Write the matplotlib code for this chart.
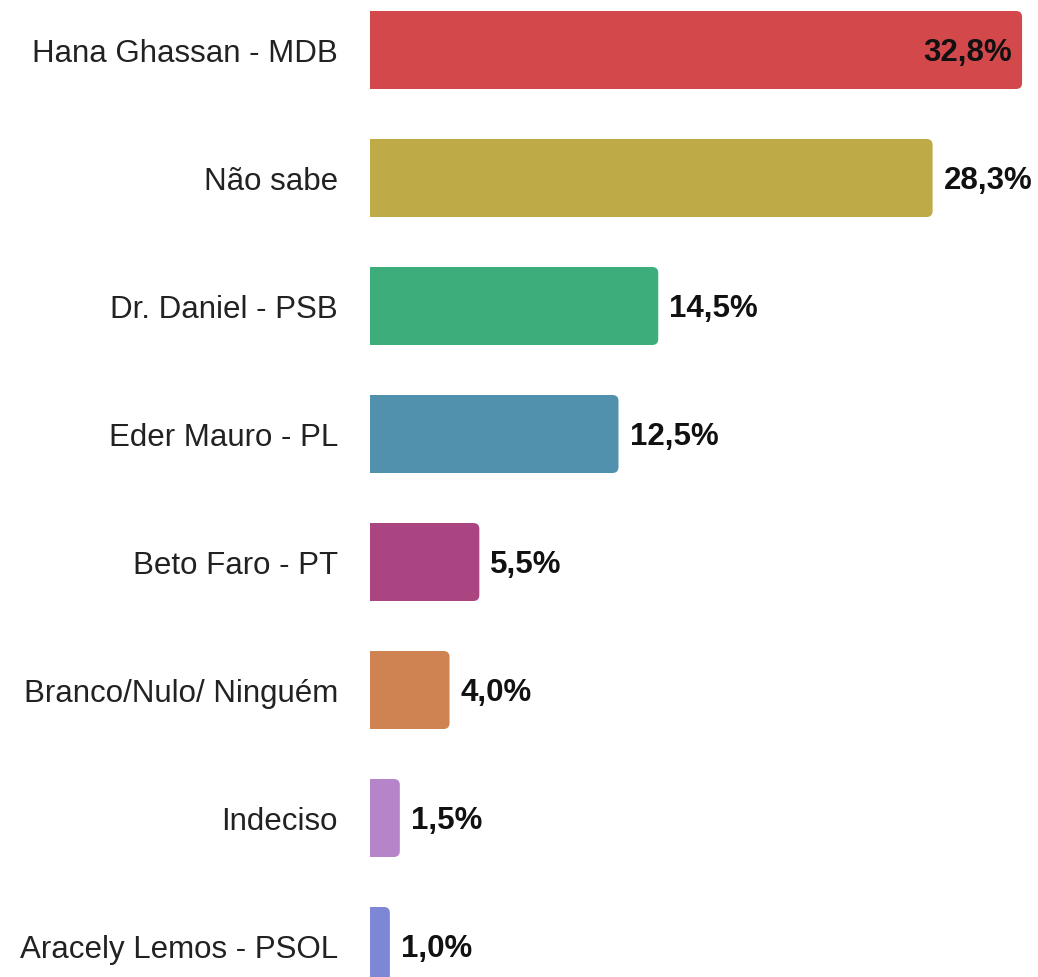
import matplotlib
matplotlib.use("Agg")
import matplotlib.pyplot as plt
from matplotlib.patches import FancyBboxPatch

plt.rcParams['font.family'] = ['Liberation Sans', 'DejaVu Sans']

candidatos = ['Hana Ghassan - MDB', 'Não sabe', 'Dr. Daniel - PSB', 'Eder Mauro - PL',
              'Beto Faro - PT', 'Branco/Nulo/ Ninguém', 'Indeciso', 'Aracely Lemos - PSOL']
valores = [32.8, 28.3, 14.5, 12.5, 5.5, 4.0, 1.5, 1.0]
rotulos = ['32,8%', '28,3%', '14,5%', '12,5%', '5,5%', '4,0%', '1,5%', '1,0%']
cores = ['#D2484B', '#BEAA47', '#3DAD7B', '#5291AD', '#AA4581', '#CF8352', '#B584C9', '#7E86D6']

fig = plt.figure(figsize=(10.38, 9.78), dpi=100)
ax = fig.add_axes([370 / 1038, 0, 668 / 1038, 1])

px_x = 19.88   # pixels per percent
px_y = 128.0   # pixels per category
ax.set_xlim(0, 668 / px_x)
ax.set_ylim((978 - 51) / px_y, -51 / px_y)

altura = 78 / px_y
raio = 6 / px_x
for i, (v, c) in enumerate(zip(valores, cores)):
    p = FancyBboxPatch((-1, i - altura / 2), v + 1, altura,
                       boxstyle=f"round,pad=0,rounding_size={raio}",
                       mutation_aspect=px_x / px_y,
                       facecolor=c, edgecolor='none', clip_on=True)
    ax.add_patch(p)
    if i == 0:
        ax.text(v - 10 / px_x, i + 2 / px_y, rotulos[i], ha='right', va='center',
                fontsize=22.5, fontweight='bold', color='#111111')
    else:
        ax.text(v + 11 / px_x, i + 2 / px_y, rotulos[i], ha='left', va='center',
                fontsize=22.5, fontweight='bold', color='#111111')

ax.set_yticks(range(len(candidatos)))
ax.set_yticklabels(candidatos, fontsize=22.5, color='#222222')
ax.tick_params(axis='y', length=0, pad=23)
ax.set_xticks([])
for s in ax.spines.values():
    s.set_visible(False)

fig.savefig('out.png', dpi=100)
